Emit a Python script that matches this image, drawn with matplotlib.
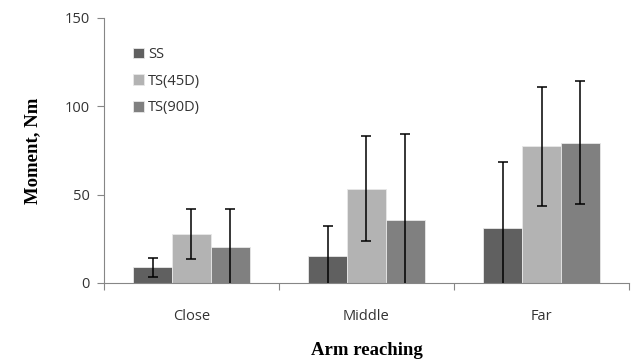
import matplotlib
matplotlib.use('Agg')
import matplotlib.pyplot as plt
import numpy as np

# Data
categories = ['Close', 'Middle', 'Far']
series = ['SS', 'TS(45D)', 'TS(90D)']
ss_vals = [8.9, 15.5, 31.3]
ss_err = [5.5, 17.0, 37.4]
ts45_vals = [27.9, 53.4, 77.3]
ts45_err = [14.2, 29.9, 33.6]
ts90_vals = [20.4, 35.5, 79.4]
ts90_err = [21.5, 49.0, 34.8]

vals = [ss_vals, ts45_vals, ts90_vals]
errs = [ss_err, ts45_err, ts90_err]
clrs = ['#606060', '#b3b3b3', '#808080']

fig = plt.figure(figsize=(6.36, 3.59), dpi=100)
ax = fig.add_axes([0.1635, 0.2117, 0.8255, 0.7382])

x = np.arange(len(categories))
w = 0.221
for i in range(len(series)):
	ax.bar(x + (i - 1) * w, vals[i], w, color=clrs[i], edgecolor='#e8e8e8', linewidth=0.6, label=series[i], zorder=2)
	ax.errorbar(x + (i - 1) * w, vals[i], yerr=errs[i], fmt='none', ecolor='black', elinewidth=1.1, capsize=3.5, capthick=1.1, zorder=3)

ax.set_xlim(-0.5, 2.5)
ax.set_ylim(0, 150)
ax.set_yticks([0, 50, 100, 150])

# Category boundary ticks, labels centred on groups
ax.set_xticks([-0.5, 0.5, 1.5, 2.5])
ax.set_xticklabels([])
ax.set_xticks(x, minor=True)
ax.set_xticklabels(categories, minor=True)
ax.tick_params(axis='x', which='minor', length=0, pad=19)
ax.tick_params(axis='x', which='major', length=5, color='#868686')
ax.tick_params(axis='y', length=5, color='#868686', pad=5)

for lab in ax.get_xticklabels(minor=True) + ax.get_yticklabels():
	lab.set_fontfamily('Open Sans')
	lab.set_fontsize(10.5)
	lab.set_color('#333333')

for s in ['top', 'right']:
	ax.spines[s].set_visible(False)
for s in ['left', 'bottom']:
	ax.spines[s].set_color('#868686')

ax.set_ylabel('Moment, Nm', fontfamily='Liberation Serif', fontweight='bold', fontsize=13.5, labelpad=17)
ax.set_xlabel('Arm reaching', fontfamily='Liberation Serif', fontweight='bold', fontsize=13.5, labelpad=13)

leg = ax.legend(loc='upper left', bbox_to_anchor=(0.03, 0.94), frameon=False, handlelength=0.75, handleheight=0.75,
	handletextpad=0.3, labelspacing=0.8, prop={'family': 'Open Sans', 'size': 10.5})
for t in leg.get_texts():
	t.set_color('#333333')

fig.savefig('out.png', dpi=100)
